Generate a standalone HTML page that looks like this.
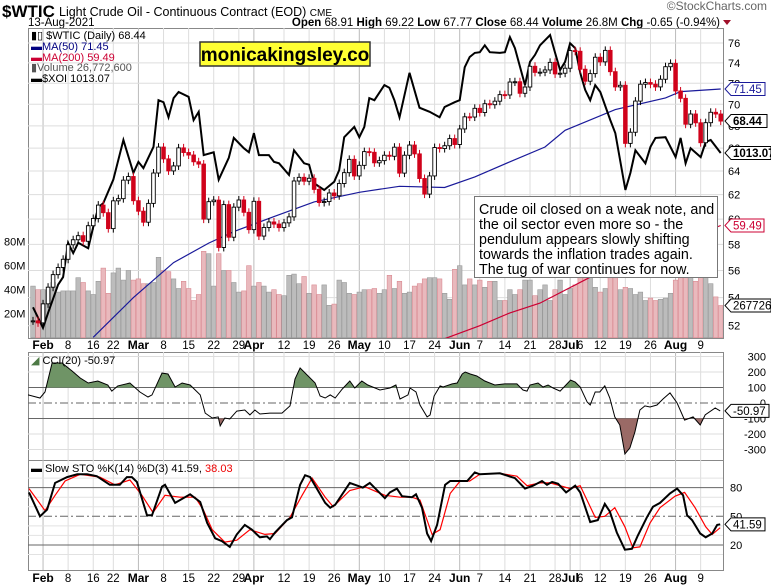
<!DOCTYPE html>
<html><head><meta charset="utf-8">
<style>
html,body{margin:0;padding:0;background:#fff;}
svg{display:block;font-family:"Liberation Sans",Arial,sans-serif;}
</style></head>
<body>
<svg id="chart" width="771" height="587" viewBox="0 0 771 587" xmlns="http://www.w3.org/2000/svg">
<rect x="0" y="0" width="771" height="587" fill="#fff"/>
<g>
<text x="2" y="17" font-size="17" font-weight="bold">$WTIC</text>
<text x="59" y="16" font-size="12.5">Light Crude Oil - Continuous Contract (EOD) <tspan font-size="10">CME</tspan></text>
<text x="28" y="26" font-size="11.5">13-Aug-2021</text>
<text x="767" y="10" font-size="12" fill="#666" text-anchor="end">©StockCharts.com</text>
<text x="720" y="26" font-size="11.5" text-anchor="end"><tspan font-weight="bold">Open</tspan> 68.91  <tspan font-weight="bold">High</tspan> 69.22  <tspan font-weight="bold">Low</tspan> 67.77  <tspan font-weight="bold">Close</tspan> 68.44  <tspan font-weight="bold">Volume</tspan> 26.8M  <tspan font-weight="bold">Chg</tspan> -0.65 (-0.94%)</text>
<polygon points="723,20 731,20 727,25" fill="#a0102a"/>
</g>
<g id="grid"></g>
<g id="vol"></g>
<g id="lines"></g>
<g id="candles"></g>
<g id="ind"></g>
<g id="axes"></g>
<g font-size="11">
<text x="31" y="39">▮▯ $WTIC (Daily) 68.44</text>
<text x="31" y="50" fill="#000080">▬MA(50) 71.45</text>
<text x="31" y="61" fill="#cc0033">▬MA(200) 59.49</text>
<text x="31" y="71" fill="#555">▮Volume 26,772,600</text>
<text x="31" y="82">▬$XOI 1013.07</text>
</g>
<g>
<rect x="200" y="42" width="170" height="24" fill="#ffff33" stroke="#333" stroke-width="1.5"/>
<text x="285" y="61" font-size="19" font-weight="bold" text-anchor="middle">monicakingsley.co</text>
</g>
<g>
<rect x="474.5" y="196.5" width="243" height="81" fill="#fff" stroke="#777"/>
<text x="479" y="214" font-size="14.3">
<tspan x="479" y="214">Crude oil closed on a weak note, and</tspan>
<tspan x="479" y="229">the oil sector even more so - the</tspan>
<tspan x="479" y="244">pendulum appears slowly shifting</tspan>
<tspan x="479" y="259">towards the inflation trades again.</tspan>
<tspan x="479" y="274">The tug of war continues for now.</tspan>
</text>
</g>
<text x="31" y="364" font-size="11"><tspan fill="#4d7a45">◢</tspan> CCI(20) -50.97</text>
<text x="31" y="472" font-size="11">▬ Slow STO %K(14) %D(3) 41.59, <tspan fill="#e00">38.03</tspan></text>
</svg>
<script>
// ---- data ----
const closes = [52.34,52.20,
53.55,54.76,55.69,56.23,56.85,57.97,58.36,58.68,58.24,59.47,60.05,61.14,60.52,59.24,61.49,61.67,63.22,63.53,61.50,
60.64,59.75,61.28,63.83,66.09,65.05,64.01,64.44,66.02,65.61,65.39,64.80,64.60,60.00,61.42,61.55,57.76,61.18,58.56,60.97,61.56,60.55,59.16,
61.45,58.65,59.33,59.77,59.60,59.32,59.70,60.18,63.15,63.46,63.13,63.38,62.44,61.35,61.43,62.14,61.91,62.94,63.86,65.01,63.58,
64.49,65.69,65.63,64.71,64.90,65.37,65.28,66.08,63.82,65.37,66.27,65.49,63.36,62.05,63.58,66.05,65.96,66.21,66.85,66.32,
67.72,68.83,68.81,69.62,69.23,70.05,69.96,70.29,70.91,70.88,72.12,72.15,71.04,71.64,73.66,73.06,73.08,73.30,74.05,72.91,72.98,73.47,
75.23,75.16,73.37,72.20,72.94,74.56,74.10,75.25,73.13,71.65,71.81,66.42,67.42,70.30,71.91,72.07,71.91,71.65,72.39,73.62,73.95,
71.26,70.56,68.15,69.09,68.28,66.48,68.29,69.25,69.09,68.44];
const volumes = [43,40,40,40,46,38,39,39,39,50,
46,39,36,47,58,37,54,58,48,56,
48,49,45,45,46,67,56,55,49,41,
47,41,31,36,72,70,43,70,56,56,
46,38,39,60,43,46,43,38,40,36,
35,52,53,45,51,37,44,36,44,27,
28,48,46,37,36,38,40,40,41,37,
40,52,41,47,37,38,43,45,49,50,
50,49,37,32,57,60,44,49,44,48,
42,47,47,31,31,40,36,40,48,48,
35,40,44,31,40,48,36,41,44,60,
57,55,42,38,41,60,62,40,42,41,
36,38,31,33,31,32,33,37,48,55,
58,55,47,55,60,45,34,26.8];
const ma50Day = [12,20,28,35,40,48,56,65,73,82,88,95,102,106,116,126,129,137];
const ma50Val = [51.2,54.0,56.6,58.1,59.0,60.2,61.4,62.2,62.7,62.6,63.5,64.8,66.1,67.6,69.5,70.6,71.2,71.45];
const ma200Day = [82,89,95,101,111,137];
const ma200Val = [51.1,52.0,52.9,53.6,55.5,59.49];
const xoiDay = [0,2,3,5,6,7,8,9,11,12,13,14,16,18,20,21,22,24,25,26,27,28,29,31,32,33,34,36,37,39,40,42,43,44,45,47,48,49,51,52,54,55,56,58,60,61,62,64,65,66,67,68,70,71,72,73,75,77,79,81,82,84,85,86,87,88,89,90,91,93,94,95,96,98,99,100,101,103,104,105,106,107,108,109,110,111,112,113,115,116,118,119,120,122,123,124,126,128,129,130,131,133,134,135,137];
const xoiVal = [788,758,780,821,832,882,867,882,874,905,934,940,974,1032,984,1000,991,1022,1090,1087,1065,1093,1102,1095,1061,1073,1010,1014,974,1006,1035,1020,1014,1042,1010,1010,1000,998,981,1017,998,996,969,959,971,988,1036,1051,1036,1051,1093,1090,1112,1108,1090,1065,1130,1079,1073,1065,1080,1087,1090,1138,1153,1159,1160,1170,1160,1159,1160,1182,1166,1112,1146,1156,1170,1185,1159,1134,1146,1173,1166,1130,1105,1090,1112,1102,1061,1042,959,984,1017,998,1022,1035,1036,1007,1035,998,1020,1007,1029,1032,1013];
const cciDay = [-1,1.4,2.4,3.8,5.8,7.8,9.4,11,12.9,14.9,15.7,16.9,19.3,21.3,22.9,23.7,25.7,26.9,28.3,29.7,31.3,33.3,34.3,35.7,36.9,37.3,38.2,39.2,40.6,42.2,43.2,44.2,45.2,47.2,49.6,51.2,52.2,53.2,56.2,57.2,58.2,59.2,60.2,61.6,63.1,64.1,65.5,66.7,69.1,71.1,72.3,73.1,74.7,75.1,76.3,77.1,78.5,79.1,79.9,81.1,81.7,83.5,84.5,85.5,86.1,87.1,88.4,90,92,94,96.4,97.6,98.4,99,100.6,101.6,102.6,103.6,105,105.6,107.1,108,109,110.4,111,112,112.9,113.9,114.9,115.9,116.9,117.9,118.9,119.9,120.9,121.9,122.9,124.3,125.5,126.9,128.3,129.8,131.5,132.9,133.9,135.9,136.9];
const cciVal = [52,32,71,258,258,206,161,129,142,116,77,110,129,71,39,52,193,187,103,129,116,52,-65,-97,-90,-148,-97,-103,-52,-45,-77,-45,-71,-65,-65,-19,155,226,129,45,32,52,32,90,142,97,142,116,84,97,116,26,52,97,71,-13,-90,-77,45,110,103,123,129,187,200,187,174,142,116,123,123,84,77,116,129,103,116,97,77,97,148,135,103,6,-13,71,71,110,32,-90,-142,-329,-290,-187,-45,-19,-26,-13,26,65,0,-110,-90,-142,-77,-32,-51];
const stoKDay = [-0.8,1.4,2.8,4.4,6.8,8.8,10.8,12.7,15.3,17.3,18.7,19.7,20.7,22.7,23.7,25.7,26.3,28.3,31.3,33.3,34.7,36.3,37.6,39.2,40.6,42.2,43.6,45.2,46.6,47.2,48.2,50.6,51.6,53.2,54.2,55.2,58.2,59.2,60.2,63.1,65.7,67.1,70.1,71.1,72.5,73.5,75.5,76.3,77.5,78.5,79.3,80.5,82.1,83.1,86.5,88,89,93,96,98,99.6,101.4,102.4,103.4,104.6,106.2,108,109,111,112.5,113.9,114.9,116.3,117.9,119.3,120.5,122.3,123.5,124.9,126.9,128.3,129.5,130.3,131.3,132.9,134,135.3,136.3,136.9];
const stoKVal = [75,50,57,85,91,94,94,92,83,83,91,91,86,51,51,81,83,64,73,65,43,27,24,18,31,41,36,28,29,26,33,46,49,83,93,91,64,59,62,85,80,85,69,75,79,71,70,73,59,32,24,41,83,87,87,96,94,95,90,79,82,87,83,86,84,75,82,75,44,46,63,55,33,15,16,30,49,60,64,74,79,72,51,46,32,28,32,41,41.59];
const stoDDay = [-0.8,2.4,4.4,6.4,9.4,13.3,16.3,19.3,21.7,23.9,26.3,29.3,32.3,33.9,35.7,38.2,40.6,43.2,46.2,48.2,51.2,53.6,55.6,58.2,59.8,63.1,66.1,70.1,73.1,75.5,77.1,79.5,81.1,83.1,85.1,87,89,93,96.4,98.4,101,103,105,107,109,112,113.9,115.9,117.9,119.5,120.9,122.9,124.9,127.9,129.8,131.9,134,135.3,136.9];
const stoDVal = [79,56,72,87,94,91,83,88,72,54,72,70,70,57,36,23,25,36,31,32,49,72,90,70,60,77,81,72,70,70,67,31,36,74,87,87,94,95,92,82,85,85,82,79,82,49,50,59,39,17,18,43,59,71,75,59,39,31,38.03];
const priceTicks = [76,74,72,70,68,66,64,62,60,58,56,54,52];
const volTicks = [80,60,40,20];
const cciTicks = [300,200,100,0,-100,-200,-300];
const stoTicks = [80,50,20];
const dateLabels = ["Feb","8","16","22","Mar","8","15","22","29","Apr","12","19","26","May","10","17","24","Jun","7","14","21","28","Jul","6","12","19","26","Aug","9"];
const dateDays = [2,7,12,16,21,26,31,36,41,44,50,55,60,65,70,75,80,85,89,94,99,104,107,109,113,118,123,128,133];

// ---- scales ----
const L=28,R=723, MT=28, MB=338, CT=352, CB=460, ST=460, SB=570;
const xD = i => 33 + i*5.02;
const yP = p => 43 + Math.log(76/p)*745;
const yV = m => 337.7 - m*1.2;
const yX = v => 153 - (v-1013)/1.458;
const yC = v => 403 - v*0.155;
const yS = v => 516.3 - (v-50)*0.955;
const NS="http://www.w3.org/2000/svg";
function mk(tag, parent, attrs){const e=document.createElementNS(NS,tag);for(const k in attrs)e.setAttribute(k,attrs[k]);parent.appendChild(e);return e;}
const G=id=>document.getElementById(id);
const svg=G('chart');

// clip paths
const defs=mk('defs',svg,{});
[['cm',L,MT,R-L,MB-MT],['cc',L,CT,R-L,CB-CT],['cs',L,ST,R-L,SB-ST],['cup',L,CT,R-L,yC(100)-CT],['cdn',L,yC(-100),R-L,CB-yC(-100)]].forEach(c=>{
 const cp=mk('clipPath',defs,{id:c[0]});mk('rect',cp,{x:c[1],y:c[2],width:c[3],height:c[4]});});

// grid
const grid=G('grid');
[[MT,MB],[CT,CB],[ST,SB]].forEach(([t,b],pi)=>{
 mk('rect',grid,{x:L+.5,y:t+.5,width:R-L,height:b-t,fill:'#fff',stroke:'#888'});
 dateDays.forEach((d,k)=>{
  const isMonth=isNaN(+dateLabels[k]);
  const gl=mk('line',grid,{x1:xD(d),x2:xD(d),y1:t,y2:b,stroke:isMonth?'#bbb':'#ddd','stroke-width':1});
  
  
 });
});
priceTicks.forEach(p=>{
 const gl=mk('line',grid,{x1:L,x2:R,y1:yP(p),y2:yP(p),stroke:'#ddd'});
 
 
});
// CCI grid
cciTicks.forEach(v=>{
 const strong=(v===100||v===-100);
 const gl=mk('line',grid,{x1:L,x2:R,y1:yC(v),y2:yC(v),stroke:strong?'#666':(v===0?'#666':'#ddd'),'stroke-dasharray':v===0?'8,3,2,3':'none'});
 
 
});
[10,30,40,60,70,90].forEach(v=>{mk('line',grid,{x1:L,x2:R,y1:yS(v),y2:yS(v),stroke:'#e2e2e2'});});
stoTicks.forEach(v=>{
 const gl=mk('line',grid,{x1:L,x2:R,y1:yS(v),y2:yS(v),stroke:'#666','stroke-dasharray':v===50?'8,3,2,3':'none'});
 
 
});

// volume
const vol=G('vol'); vol.setAttribute('clip-path','url(#cm)');
volumes.forEach((m,i)=>{
 const down = i>0 && closes[i]<closes[i-1];
 const b=mk('rect',vol,{x:xD(i)-2.3,y:yV(m),width:4.6,height:337.7-yV(m),fill:down?'#e9b9bd':'#bcbcbc',stroke:down?'#d98a92':'#999','stroke-width':0.6});
 
 
});

// lines
const lines=G('lines'); lines.setAttribute('clip-path','url(#cm)');
function poly(parent,days,vals,yf,attrs){return mk('polyline',parent,Object.assign({points:days.map((d,k)=>xD(d).toFixed(1)+','+yf(vals[k]).toFixed(1)).join(' '),fill:'none'},attrs));}
const m200=poly(lines,ma200Day,ma200Val,yP,{stroke:'#cc0033','stroke-width':1.2});


const m50=poly(lines,ma50Day,ma50Val,yP,{stroke:'#1a1a9a','stroke-width':1.2});


const xo=poly(lines,xoiDay,xoiVal,yX,{stroke:'#000','stroke-width':2});



// candles
const cg=G('candles'); cg.setAttribute('clip-path','url(#cm)');
closes.forEach((c,i)=>{
 const o = i>0?closes[i-1]:c;
 const up = c>=o;
 const yt=yP(Math.max(o,c)), yb=yP(Math.min(o,c));
 const col=up?'#000':'#d0021b';
 const g=mk('g',cg,{});
 
 
 mk('line',g,{x1:xD(i),x2:xD(i),y1:yt-4,y2:yb+4,stroke:col,'stroke-width':1});
 mk('rect',g,{x:xD(i)-1.8,y:yt,width:3.6,height:Math.max(1,yb-yt),fill:up?'#fff':'#d0021b',stroke:col,'stroke-width':0.9});
});

// indicators
const ind=G('ind');
const cciPts=cciDay.map((d,k)=>xD(d).toFixed(1)+','+yC(cciVal[k]).toFixed(1));
const x0=xD(cciDay[0]).toFixed(1), x1=xD(cciDay[cciDay.length-1]).toFixed(1);
const up=mk('polygon',ind,{points:x0+','+yC(100)+' '+cciPts.join(' ')+' '+x1+','+yC(100),fill:'#6f9466',stroke:'none','clip-path':'url(#cup)'});


const dn=mk('polygon',ind,{points:x0+','+yC(-100)+' '+cciPts.join(' ')+' '+x1+','+yC(-100),fill:'#9a6a66',stroke:'none','clip-path':'url(#cdn)'});


const cl=poly(ind,cciDay,cciVal,yC,{stroke:'#000','stroke-width':1,'clip-path':'url(#cc)'});


const dl=poly(ind,stoDDay,stoDVal,yS,{stroke:'#f00','stroke-width':1.2,'clip-path':'url(#cs)'});


const kl=poly(ind,stoKDay,stoKVal,yS,{stroke:'#000','stroke-width':2,'clip-path':'url(#cs)'});



// axes labels
const ax=G('axes');
function txt(x,y,s,attrs){const t=mk('text',ax,Object.assign({x:x,y:y,'font-size':11},attrs||{}));t.textContent=s;return t;}
priceTicks.forEach(p=>{const t=txt(728,yP(p)+4,String(p));
 
 });
volTicks.forEach(m=>{const t=txt(4,yV(m)+4,m+'M');
 
 });
cciTicks.forEach(v=>{const t=txt(766,yC(v)+4,String(v),{'text-anchor':'end'});
 
 });
stoTicks.forEach(v=>{const t=txt(730,yS(v)+4,String(v));
 
 });
[349,582].forEach(yy=>{
 dateDays.forEach((d,k)=>{
  const isMonth=isNaN(+dateLabels[k]);
  const t=txt(xD(d),yy,dateLabels[k],{'text-anchor':'middle','font-size':isMonth?12:11.5,'font-weight':isMonth?'bold':'normal'});
  
  
 });
});
function tag(y,s,col,bold,w){
 const g=mk('g',ax,{});
 
 
 mk('polygon',g,{points:`725,${y} 731,${y-6.5} ${731+w},${y-6.5} ${731+w},${y+6.5} 731,${y+6.5}`,fill:'#fff',stroke:col,'stroke-width':1});
 const t=mk('text',g,{x:733,y:y+4,'font-size':11.5,fill:col==='#000'?'#000':col,'font-weight':bold?'bold':'normal'});t.textContent=s;
}
tag(yP(71.45),'71.45','#1a1a9a',false,34);
tag(yP(68.44),'68.44','#000',true,36);
tag(yX(1013.07),'1013.07','#000',true,40);
tag(yP(59.49),'59.49','#cc0033',false,33);
tag(yV(26.8),'2677260','#000',false,40);
tag(yC(-50.97),'-50.97','#000',false,38);
tag(yS(41.59),'41.59','#000',false,34);
</script>
</body></html>
